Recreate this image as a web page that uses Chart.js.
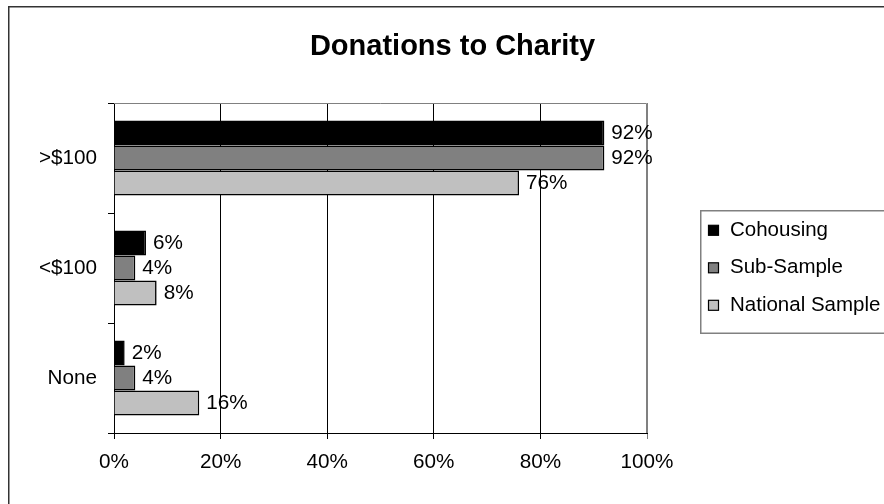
<!DOCTYPE html>
<html>
<head>
<meta charset="utf-8">
<title>Donations to Charity</title>
<script src="https://cdn.jsdelivr.net/npm/chart.js@4"></script>
<style>
body{margin:0;background:#fff;}
canvas{display:block;}
</style>
</head>
<body>
<canvas id="grafico" width="884" height="504"></canvas>
<script>
// Dados

const titulo = "Donations to Charity";
const categorias = [">$100", "<$100", "None"];
const series = ["Cohousing", "Sub-Sample", "National Sample"];
const cohousing = [92, 6, 2];
const subSample = [92, 4, 4];
const nacional = [76, 8, 16];
const ticksX = [0, 20, 40, 60, 80, 100];
const cores = ["#000000", "#808080", "#C0C0C0"];

const fonte = "'Liberation Sans', Arial, sans-serif";

// Moldura, titulo, rotulos e legenda

const extras = {
id: "extras",
beforeDraw(chart){
const c = chart.ctx;
c.save();
c.fillStyle = "#fff";
c.fillRect(0, 0, chart.width, chart.height);
c.strokeStyle = "#333";
c.lineWidth = 1.5;
c.strokeRect(8.75, 6.75, 1000, 1000);
c.restore();
},
afterDraw(chart){
const c = chart.ctx;
const a = chart.chartArea;
c.save();

// borda da area do grafico
c.strokeStyle = "#808080";
c.lineWidth = 1;
c.beginPath();
c.moveTo(a.left, a.top + 0.5);
c.lineTo(a.right - 0.5, a.top + 0.5);
c.lineTo(a.right - 0.5, a.bottom);
c.stroke();

// titulo
c.fillStyle = "#000";
c.font = "bold 29px " + fonte;
c.textAlign = "center";
c.textBaseline = "alphabetic";
c.fillText(titulo, 452.5, 55);

// rotulos das barras
c.font = "20.7px " + fonte;
c.textAlign = "left";
c.textBaseline = "middle";
chart.data.datasets.forEach((ds, i) => {
chart.getDatasetMeta(i).data.forEach((bar, j) => {
c.fillText(ds.data[j] + "%", bar.x + 7, bar.y);
});
});

// legenda
c.fillStyle = "#fff";
c.fillRect(700.75, 210.75, 300, 122.5);
c.strokeStyle = "#808080";
c.lineWidth = 1.5;
c.strokeRect(700.75, 210.75, 300, 122.5);
c.font = "20.5px " + fonte;
chart.data.datasets.forEach((ds, i) => {
const y = 230.3 + i * 37.5;
c.fillStyle = ds.backgroundColor;
c.fillRect(708.5, y - 5, 10, 10);
c.strokeStyle = "#000";
c.lineWidth = 1.2;
c.strokeRect(708.5, y - 5, 10, 10);
c.fillStyle = "#000";
c.fillText(ds.label, 730, y);
});

c.restore();
}
};

// Grafico

const ctx = document.getElementById("grafico");

new Chart(ctx, {
type: "bar",
data: {
labels: categorias,
datasets: [cohousing, subSample, nacional].map((valores, i) => ({
label: series[i],
data: valores,
backgroundColor: cores[i],
borderColor: "#000",
borderWidth: 1.6,
borderSkipped: "start",
categoryPercentage: 0.682,
barPercentage: 1
}))
},
options: {
indexAxis: "y",
responsive: false,
animation: false,
devicePixelRatio: 1,
layout: {
padding: {top: 103, right: 237, left: 0, bottom: 0}
},
plugins: {
legend: {display: false},
title: {display: false},
tooltip: {enabled: false}
},
scales: {
x: {
min: 0,
max: 100,
afterBuildTicks: (scale) => {
scale.ticks = ticksX.map(v => ({value: v}));
},
afterFit: (scale) => { scale.height = 71; },
ticks: {
color: "#000",
padding: 11,
font: {family: fonte, size: 20.7},
callback: v => v + "%"
},
grid: {
color: c => (c.tick && c.tick.value === 100) ? "#808080" : "#000",
lineWidth: 1,
tickLength: 6
},
border: {color: "#000", width: 1}
},
y: {
afterFit: (scale) => { scale.width = 114; },
ticks: {
color: "#000",
padding: 11,
font: {family: fonte, size: 20.7}
},
grid: {
offset: true,
drawOnChartArea: false,
drawTicks: true,
tickLength: 6,
color: "#000"
},
border: {color: "#000", width: 1}
}
}
},
plugins: [extras]
});
</script>
</body>
</html>
